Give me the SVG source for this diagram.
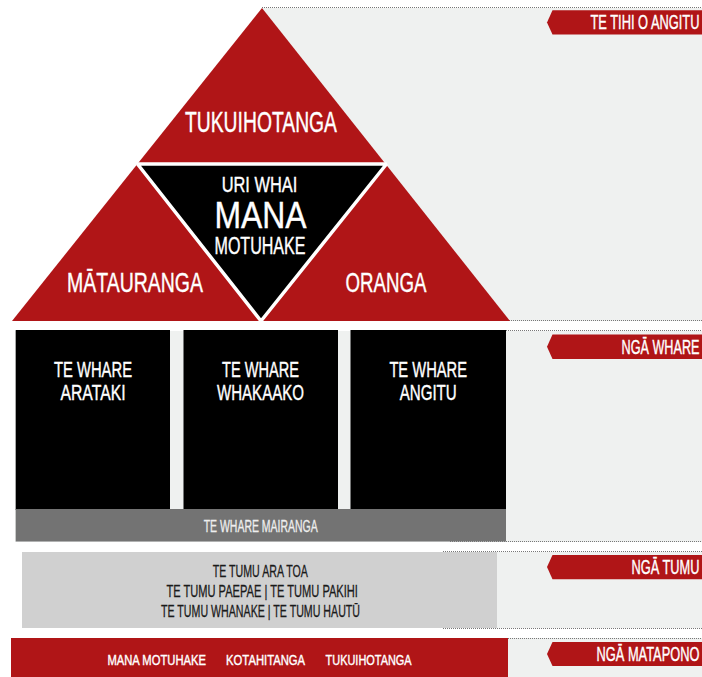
<svg xmlns="http://www.w3.org/2000/svg" width="702" height="677" viewBox="0 0 702 677">
<style>
text{font-family:"Liberation Sans Narrow","Liberation Sans",Arial,sans-serif;}
.w{fill:#ffffff;stroke:#ffffff;stroke-width:0.4;}
.k{fill:#1a1a1a;stroke:#1a1a1a;stroke-width:0.3;}
.c{text-anchor:middle;}
.e{text-anchor:end;}
.red{fill:#b01517;}
.panel{fill:#eff1f0;}
.dot{stroke:#777;stroke-width:1;stroke-dasharray:1 1;fill:none;}
.tab{fill:#b01517;}
</style>
<rect width="702" height="677" fill="#ffffff"/>
<g id="panels">
<rect class="panel" x="262" y="8" width="440" height="313"/>
<rect class="panel" x="15" y="331" width="687" height="211"/>
<rect class="panel" x="22" y="552" width="680" height="76"/>
<rect class="panel" x="508" y="638" width="194" height="39"/>
</g>
<g id="guides">
<line class="dot" x1="262" y1="7.5" x2="702" y2="7.5"/>
<line class="dot" x1="509" y1="320.5" x2="702" y2="320.5"/>
<line class="dot" x1="450" y1="330.5" x2="702" y2="330.5"/>
<line class="dot" x1="450" y1="541.5" x2="702" y2="541.5"/>
<line class="dot" x1="443" y1="551.5" x2="702" y2="551.5"/>
<line class="dot" x1="443" y1="628.5" x2="702" y2="628.5"/>
<line class="dot" x1="452" y1="638.5" x2="702" y2="638.5"/>
</g>
<g id="pyramid">
<polygon class="red" points="262,8 12,321 510,321"/>
<polygon fill="#000" stroke="#ffffff" stroke-width="3.5" stroke-linejoin="bevel" points="137.5,164 386.5,164 261,321"/>
</g>
<g id="node-tukuihotanga">
<text class="w c" x="261" y="132.3" font-size="29" textLength="152" lengthAdjust="spacingAndGlyphs">TUKUIHOTANGA</text>
</g>
<g id="node-mana-motuhake">
<text class="w c" x="259.5" y="191.7" font-size="22" textLength="75.6" lengthAdjust="spacingAndGlyphs">URI WHAI</text>
<text class="w c" x="260.5" y="228.3" font-size="37.5" textLength="92" lengthAdjust="spacingAndGlyphs">MANA</text>
<text class="w c" x="260" y="254.3" font-size="23.5" textLength="91" lengthAdjust="spacingAndGlyphs">MOTUHAKE</text>
</g>
<g id="node-matauranga">
<text class="w c" x="135" y="291.7" font-size="28" textLength="136" lengthAdjust="spacingAndGlyphs">MĀTAURANGA</text>
</g>
<g id="node-oranga">
<text class="w c" x="386" y="291.7" font-size="28" textLength="81" lengthAdjust="spacingAndGlyphs">ORANGA</text>
</g>
<g id="node-arataki">
<rect x="15.7" y="330" width="154.3" height="180" fill="#000"/>
<text class="w c" x="93" y="376.7" font-size="22.5" textLength="78" lengthAdjust="spacingAndGlyphs">TE WHARE</text>
<text class="w c" x="93" y="400" font-size="22.5" textLength="65" lengthAdjust="spacingAndGlyphs">ARATAKI</text>
</g>
<g id="node-whakaako">
<rect x="183.5" y="330" width="154.5" height="180" fill="#000"/>
<text class="w c" x="260.5" y="376.7" font-size="22.5" textLength="77" lengthAdjust="spacingAndGlyphs">TE WHARE</text>
<text class="w c" x="260.5" y="400" font-size="22.5" textLength="87" lengthAdjust="spacingAndGlyphs">WHAKAAKO</text>
</g>
<g id="node-angitu">
<rect x="350.5" y="330" width="155.5" height="180" fill="#000"/>
<text class="w c" x="428.2" y="376.7" font-size="22.5" textLength="77.6" lengthAdjust="spacingAndGlyphs">TE WHARE</text>
<text class="w c" x="428.2" y="400" font-size="22.5" textLength="57" lengthAdjust="spacingAndGlyphs">ANGITU</text>
</g>
<g id="node-mairanga">
<rect x="15.7" y="509" width="490.3" height="32.5" fill="#737373"/>
<text class="c" fill="#eeeeee" stroke="#eeeeee" stroke-width="0.3" x="260.7" y="531.7" font-size="16.5" textLength="114" lengthAdjust="spacingAndGlyphs">TE WHARE MAIRANGA</text>
</g>
<g id="node-tumu">
<rect x="22" y="552" width="475" height="76" fill="#d0d0d0"/>
<text class="k c" x="260.3" y="576.7" font-size="16.5" textLength="95" lengthAdjust="spacingAndGlyphs">TE TUMU ARA TOA</text>
<text class="k c" x="262.2" y="596.7" font-size="16.5" textLength="191.5" lengthAdjust="spacingAndGlyphs">TE TUMU PAEPAE | TE TUMU PAKIHI</text>
<text class="k c" x="260.5" y="616.7" font-size="16.5" textLength="199" lengthAdjust="spacingAndGlyphs">TE TUMU WHANAKE | TE TUMU HAUTŪ</text>
</g>
<g id="node-matapono">
<rect class="red" x="11" y="638" width="497" height="39"/>
<text class="w c" x="156.7" y="665" font-size="14.5" textLength="98.5" lengthAdjust="spacingAndGlyphs">MANA MOTUHAKE</text>
<text class="w c" x="265.6" y="665" font-size="14.5" textLength="79" lengthAdjust="spacingAndGlyphs">KOTAHITANGA</text>
<text class="w c" x="368.6" y="665" font-size="14.5" textLength="86" lengthAdjust="spacingAndGlyphs">TUKUIHOTANGA</text>
</g>
<g id="label-te-tihi">
<polygon class="tab" points="552.5,10.3 702,10.3 702,34.6 552.5,34.6 547,22.4"/>
<text class="w e" x="699.5" y="28.5" font-size="19.5" textLength="109" lengthAdjust="spacingAndGlyphs">TE TIHI O ANGITU</text>
</g>
<g id="label-nga-whare">
<polygon class="tab" points="552.5,334.5 702,334.5 702,359 552.5,359 547,346.7"/>
<text class="w e" x="699.5" y="353.5" font-size="19.5" textLength="78" lengthAdjust="spacingAndGlyphs">NGĀ WHARE</text>
</g>
<g id="label-nga-tumu">
<polygon class="tab" points="552.5,555 702,555 702,579.3 552.5,579.3 547,567.1"/>
<text class="w e" x="699.5" y="573.5" font-size="19.5" textLength="68" lengthAdjust="spacingAndGlyphs">NGĀ TUMU</text>
</g>
<g id="label-nga-matapono">
<polygon class="tab" points="552.5,642 702,642 702,666 552.5,666 547,654"/>
<text class="w e" x="699.5" y="660.5" font-size="19.5" textLength="103" lengthAdjust="spacingAndGlyphs">NGĀ MATAPONO</text>
</g>
</svg>
